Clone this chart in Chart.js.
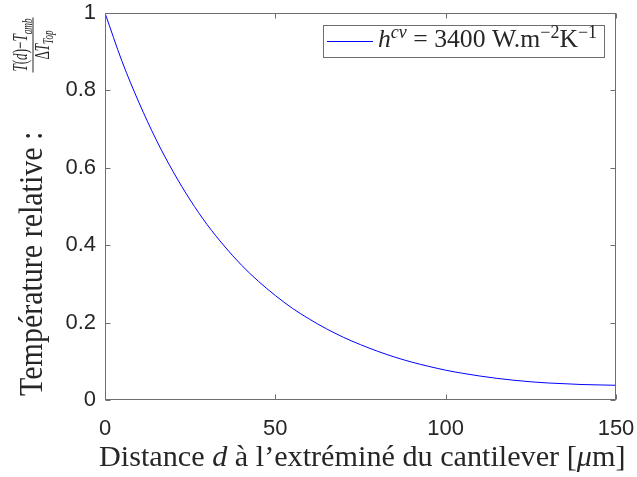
<!DOCTYPE html>
<html lang="fr">
<head>
<meta charset="UTF-8">
<title>Température relative le long du cantilever</title>
<script src="https://cdn.jsdelivr.net/npm/chart.js@4.4.0/dist/chart.umd.min.js"></script>
<style>
  html, body { margin: 0; padding: 0; background: #fff; }
  #wrap { width: 637px; height: 477px; }
</style>
</head>
<body>
<div id="wrap"><canvas id="chart" width="637" height="477"></canvas></div>
<script>
// distance from the cantilever tip [um] and relative temperature
const distance = [0, 5, 10, 15, 20, 25, 30, 35, 40, 45, 50, 55, 60, 65, 70, 75,
                  80, 85, 90, 95, 100, 105, 110, 115, 120, 125, 130, 135, 140, 145, 150];
const tempRel = [1.000, 0.875, 0.768, 0.673, 0.590, 0.517, 0.453, 0.398, 0.349, 0.307,
                 0.270, 0.237, 0.209, 0.184, 0.162, 0.143, 0.126, 0.111, 0.098, 0.087,
                 0.077, 0.069, 0.062, 0.056, 0.051, 0.047, 0.044, 0.042, 0.040, 0.039, 0.038];
const xTicks = [0, 50, 100, 150];
const yTicks = [0, 0.2, 0.4, 0.6, 0.8, 1];

const axisColor = '#6e6e6e';
const textColor = '#262626';
const serif = '"Liberation Serif", "DejaVu Serif", serif';
const tickFont = { family: '"Liberation Sans", Arial, sans-serif', size: 22 };

// little helpers for mixed roman / italic / sub / superscript text
function fontOf(r, size) {
  const s = size * (r.sup || r.sub ? 0.7 : 1);
  return (r.it ? 'italic ' : '') + s.toFixed(1) + 'px ' + serif;
}
function runsWidth(ctx, runs, size) {
  let w = 0;
  runs.forEach(r => { ctx.font = fontOf(r, size); w += ctx.measureText(r.t).width; });
  return w;
}
function fitSize(ctx, runs, target) {
  return 20 * target / runsWidth(ctx, runs, 20);
}
function drawRuns(ctx, runs, x, y, size) {
  runs.forEach(r => {
    ctx.font = fontOf(r, size);
    const dy = r.sup ? -0.36 * size : (r.sub ? 0.22 * size : 0);
    ctx.fillText(r.t, x, y + dy);
    x += ctx.measureText(r.t).width;
  });
  return x;
}

const xTitle = [{ t: 'Distance ' }, { t: 'd', it: true }, { t: ' à l’extréminé du cantilever [' },
                { t: 'μ', it: true }, { t: 'm]' }];
const yTitle = [{ t: 'Température relative :' }];
const numer = [{ t: 'T', it: true }, { t: '(' }, { t: 'd', it: true }, { t: ')−' },
               { t: 'T', it: true }, { t: 'amb', it: true, sub: true }];
const denom = [{ t: 'Δ' }, { t: 'T', it: true }, { t: 'Top', it: true, sub: true }];
const legendText = [{ t: 'h', it: true }, { t: 'cv', it: true, sup: true }, { t: ' = 3400 W.m' },
                    { t: '−2', sup: true }, { t: 'K' }, { t: '−1', sup: true }];

const matlabFrame = {
  id: 'matlabFrame',
  afterDatasetsDraw(chart) {
    const { ctx, chartArea: a, scales: { x, y } } = chart;
    ctx.save();
    ctx.strokeStyle = axisColor;
    ctx.lineWidth = 1;
    const L = Math.round(a.left) + 0.5, R = Math.round(a.right) - 0.5;
    const T = Math.round(a.top) + 0.5, B = Math.round(a.bottom) - 0.5;
    ctx.strokeRect(L, T, R - L, B - T);
    ctx.beginPath();
    xTicks.forEach(v => {
      const px = Math.round(x.getPixelForValue(v)) + 0.5;
      ctx.moveTo(px, B); ctx.lineTo(px, B - 5);
      ctx.moveTo(px, T); ctx.lineTo(px, T + 5);
    });
    yTicks.forEach(v => {
      const py = Math.round(y.getPixelForValue(v)) + 0.5;
      ctx.moveTo(L, py); ctx.lineTo(L + 5, py);
      ctx.moveTo(R, py); ctx.lineTo(R - 5, py);
    });
    ctx.stroke();
    ctx.restore();
  },
  afterDraw(chart) {
    const ctx = chart.ctx;
    ctx.save();
    ctx.fillStyle = textColor;
    ctx.textBaseline = 'alphabetic';
    ctx.textAlign = 'left';

    // x axis title
    const xs = fitSize(ctx, xTitle, 526);
    drawRuns(ctx, xTitle, 99, 466, xs);

    // y axis title, rotated (glyphs a bit taller than wide, as in the figure)
    ctx.save();
    ctx.translate(42, 396);
    ctx.rotate(-Math.PI / 2);
    const ys = fitSize(ctx, yTitle, 264);
    ctx.save();
    ctx.scale(1, 1.15);
    drawRuns(ctx, yTitle, 0, 0, ys);
    ctx.restore();

    const fs = fitSize(ctx, numer, 53);
    const nw = runsWidth(ctx, numer, fs), dw = runsWidth(ctx, denom, fs);
    const uc = 351, k = 1.6;
    ctx.save();
    ctx.scale(1, k);
    drawRuns(ctx, numer, uc - nw / 2, -14.9 / k, fs);
    drawRuns(ctx, denom, uc - dw / 2, 6.7 / k, fs);
    ctx.restore();
    ctx.strokeStyle = textColor;
    ctx.lineWidth = 1;
    ctx.beginPath();
    ctx.moveTo(uc - nw / 2 - 1, -9);
    ctx.lineTo(uc + nw / 2 + 1, -9);
    ctx.stroke();
    ctx.restore();

    // legend box
    ctx.fillStyle = '#ffffff';
    ctx.fillRect(323.5, 25.5, 281, 32);
    ctx.strokeStyle = axisColor;
    ctx.lineWidth = 1;
    ctx.strokeRect(323.5, 25.5, 281, 32);
    ctx.strokeStyle = chart.data.datasets[0].borderColor;
    ctx.beginPath();
    ctx.moveTo(327, 41.5);
    ctx.lineTo(373, 41.5);
    ctx.stroke();
    ctx.fillStyle = textColor;
    const ls = fitSize(ctx, legendText, 219);
    drawRuns(ctx, legendText, 378, 47, ls);
    ctx.restore();
  }
};

new Chart(document.getElementById('chart'), {
  type: 'line',
  data: {
    datasets: [{
      data: distance.map((d, i) => ({ x: d, y: tempRel[i] })),
      borderColor: '#0000ff',
      borderWidth: 1,
      pointRadius: 0,
      fill: false,
      cubicInterpolationMode: 'monotone'
    }]
  },
  options: {
    responsive: false,
    animation: false,
    devicePixelRatio: 1,
    layout: { padding: { top: 13, right: 21, left: 0, bottom: 0 } },
    plugins: { legend: { display: false }, tooltip: { enabled: false } },
    scales: {
      x: {
        type: 'linear', min: 0, max: 150,
        afterBuildTicks: s => { s.ticks = xTicks.map(v => ({ value: v })); },
        afterFit: s => { s.height = 77; s.paddingLeft = 0; s.paddingRight = 0; },
        grid: { display: false, drawTicks: false },
        border: { display: false },
        ticks: { padding: 16, color: textColor, font: tickFont, maxRotation: 0, callback: v => String(v) }
      },
      y: {
        type: 'linear', min: 0, max: 1,
        afterBuildTicks: s => { s.ticks = yTicks.map(v => ({ value: v })); },
        afterFit: s => { s.width = 105; s.paddingTop = 0; s.paddingBottom = 0; },
        grid: { display: false, drawTicks: false },
        border: { display: false },
        ticks: { padding: 9, color: textColor, font: tickFont, callback: v => String(v) }
      }
    }
  },
  plugins: [matlabFrame]
});
</script>
</body>
</html>
